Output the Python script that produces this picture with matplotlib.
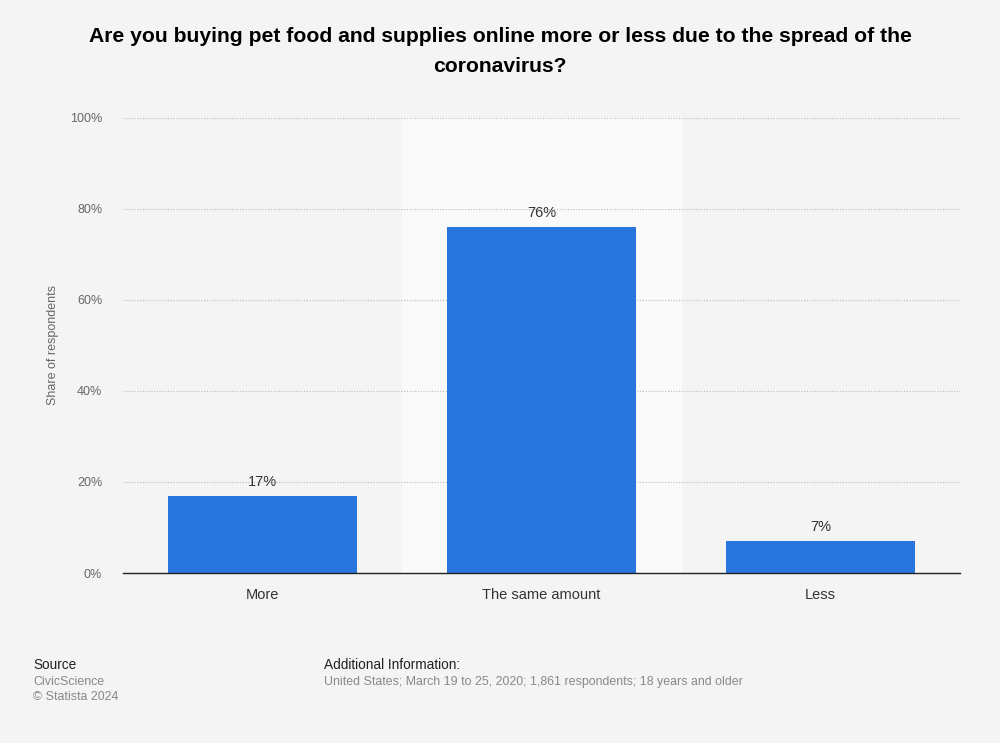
import matplotlib
matplotlib.use("Agg")
import matplotlib.pyplot as plt

categories = ["More", "The same amount", "Less"]
values = [17, 76, 7]
yticks = [0, 20, 40, 60, 80, 100]
ytick_labels = ["0%", "20%", "40%", "60%", "80%", "100%"]

plt.rcParams['font.family'] = ['Liberation Sans', 'DejaVu Sans']

bg = "#f4f4f4"
fig = plt.figure(figsize=(10, 7.43), dpi=100, facecolor=bg)
ax = fig.add_axes([0.123, 0.2288, 0.837, 0.6124])
ax.set_facecolor(bg)

x = list(range(len(categories)))
ax.axvspan(0.5, 1.5, color="#fafafa", zorder=0)
ax.bar(x, values, width=0.68, color="#2876dd", zorder=3)
for xi, v in zip(x, values):
    ax.text(xi, v + 1.5, f"{v}%", ha="center", va="bottom", fontsize=10.5, color="#333333", zorder=4)

ax.set_xlim(-0.5, 2.5)
ax.set_ylim(0, 100)
ax.set_yticks(yticks)
ax.set_yticklabels(ytick_labels, fontsize=9, color="#666666")
ax.set_xticks(x)
ax.set_xticklabels(categories, fontsize=10.5, color="#333333")
ax.tick_params(axis="y", length=0, pad=15)
ax.tick_params(axis="x", length=0, pad=11)
ax.yaxis.grid(True, linestyle=(0, (1, 1.5)), color="#bbbbbb", linewidth=0.8, zorder=1)
for s in ["top", "right", "left"]:
    ax.spines[s].set_visible(False)
ax.spines["bottom"].set_color("#222222")
ax.spines["bottom"].set_linewidth(1)
ax.spines["bottom"].set_zorder(5)

fig.text(0.053, 1 - 345 / 743, "Share of respondents", rotation=90, ha="center", va="center",
         fontsize=9, color="#666666")

fig.text(0.5, 1 - 36 / 743, "Are you buying pet food and supplies online more or less due to the spread of the",
         ha="center", va="center", fontsize=15.2, fontweight="bold", color="#000000")
fig.text(0.5, 1 - 67 / 743, "coronavirus?", ha="center", va="center", fontsize=15.2, fontweight="bold", color="#000000")

fig.text(0.033, 1 - 665 / 743, "Source", ha="left", va="center", fontsize=9.8, color="#222222")
fig.text(0.033, 1 - 682 / 743, "CivicScience", ha="left", va="center", fontsize=8.9, color="#888888")
fig.text(0.033, 1 - 697 / 743, "© Statista 2024", ha="left", va="center", fontsize=8.9, color="#888888")
fig.text(0.324, 1 - 665 / 743, "Additional Information:", ha="left", va="center", fontsize=9.8, color="#222222")
fig.text(0.324, 1 - 682 / 743, "United States; March 19 to 25, 2020; 1,861 respondents; 18 years and older",
         ha="left", va="center", fontsize=8.9, color="#888888")

fig.savefig("out.png", dpi=100, facecolor=bg)
